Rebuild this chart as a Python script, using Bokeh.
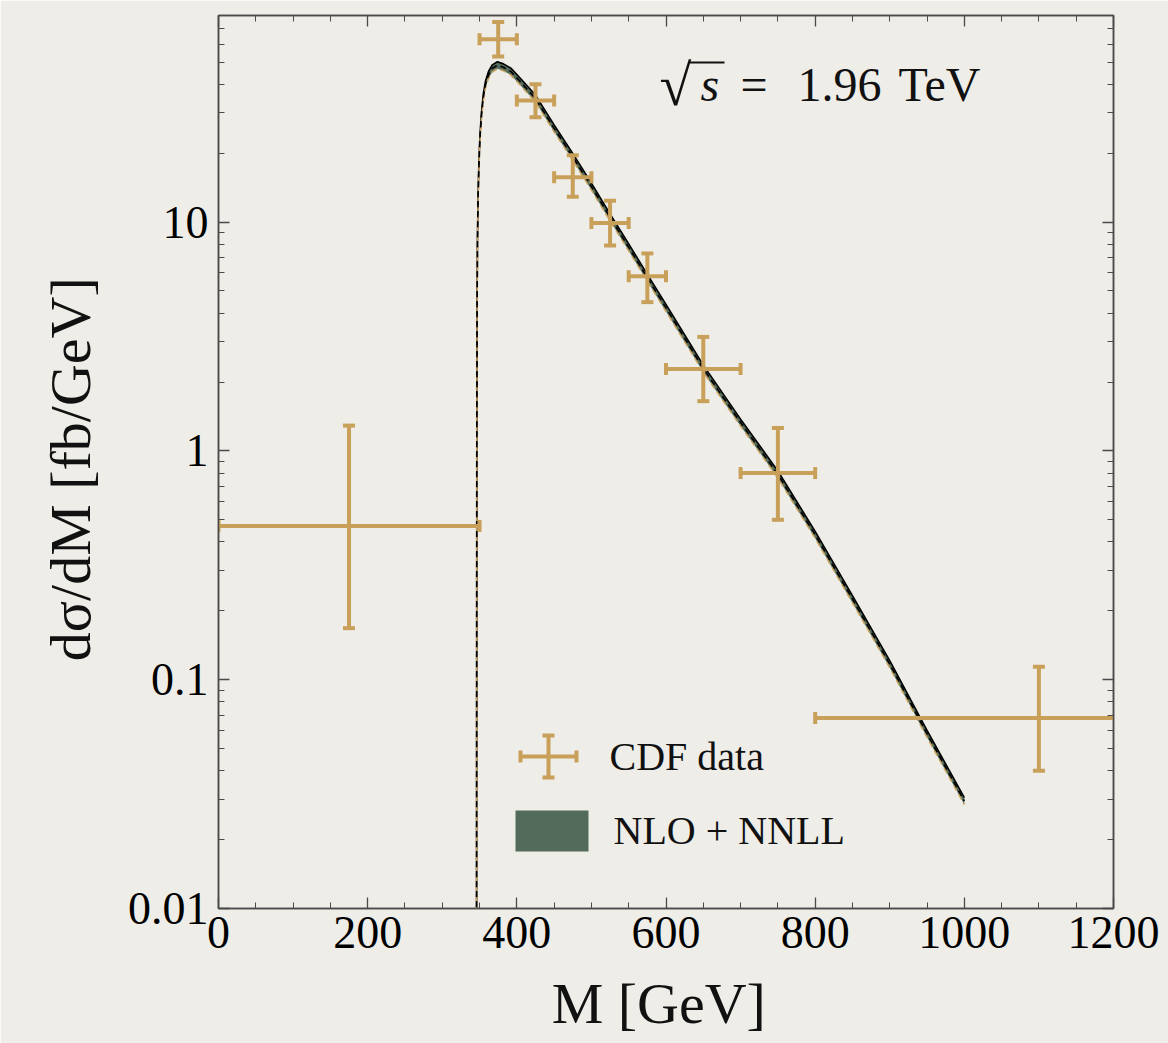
import numpy as np
from bokeh.plotting import figure
from bokeh.models import (Range1d, FixedTicker, SingleIntervalTicker, LinearAxis, LogAxis,
                          Label, BoxAnnotation, CustomJSTickFormatter)
from bokeh.embed import file_html
from bokeh.resources import INLINE

# ---------------- data ----------------
cdf_mass = [175, 375, 425, 475, 525, 575, 650, 750, 1100]
cdf_bin_lo = [0, 350, 400, 450, 500, 550, 600, 700, 800]
cdf_bin_hi = [350, 400, 450, 500, 550, 600, 700, 800, 1400]
cdf_xsec = [0.47, 63.0, 34.0, 15.7, 9.9, 5.8, 2.28, 0.80, 0.068]
cdf_err_up = [1.29, 75.0, 40.0, 19.6, 12.4, 7.3, 3.15, 1.26, 0.114]
cdf_err_dn = [0.168, 53.0, 28.7, 12.9, 7.9, 4.47, 1.65, 0.50, 0.040]

th_mass = [346.0, 346.3, 346.7, 347.2, 348.0, 349.0, 350.5, 352.5, 355.0, 358.0, 362.0,
           367.0, 374.0, 382.0, 392.0, 405.0, 425.0, 450.0, 475.0, 500.0, 525.0, 550.0,
           575.0, 600.0, 650.0, 700.0, 750.0, 800.0, 850.0, 900.0, 950.0, 1000.0]
th_xsec = [0.005, 1.0, 4.0, 8.0, 12.5, 17.0, 23.0, 29.0, 35.0, 40.0, 44.0,
           47.0, 48.5, 47.5, 45.5, 41.0, 34.7, 25.7, 19.3, 14.3, 10.5, 7.76,
           5.71, 4.22, 2.29, 1.33, 0.79, 0.43, 0.225, 0.117, 0.058, 0.0295]
th_rel_unc = 0.035

x_major_step = 200
y_major = [0.01, 0.1, 1, 10]
y_major_labels = ["0.01", "0.1", "1", "10"]
y_minor = [m * d for d in (0.01, 0.1, 1, 10) for m in range(2, 10)]

legend_labels = ["CDF data", "NLO + NNLL"]
x_title = "M  [GeV]"
y_title = "dσ/dM  [fb/GeV]"

# ---------------- style ----------------
BG = "#EEEDE8"
TAN = "#C9A05A"
GREEN = "#536B5B"
FONT = "Liberation Serif"

p = figure(width=1168, height=1043, x_range=Range1d(0, 1200), y_range=Range1d(0.01, 80),
           y_axis_type="log", output_backend="svg", toolbar_location=None,
           min_border_left=218, min_border_right=55, min_border_top=15, min_border_bottom=135,
           background_fill_color=BG, border_fill_color=BG)
p.outline_line_color = "#4a4a4a"
p.outline_line_width = 1.5
p.grid.visible = False

def style_axis(ax, labels=True):
    ax.axis_line_color = "#4a4a4a"
    ax.axis_line_width = 1.5
    ax.major_tick_line_color = "#4a4a4a"
    ax.minor_tick_line_color = "#4a4a4a"
    ax.major_tick_line_width = 1.3
    ax.minor_tick_line_width = 1.0
    ax.major_tick_in = 11
    ax.major_tick_out = 0
    ax.minor_tick_in = 6
    ax.minor_tick_out = 0
    if labels:
        ax.major_label_text_font = FONT
        ax.major_label_text_font_size = "46px"
        ax.major_label_text_color = "black"
        ax.axis_label_text_font = FONT
        ax.axis_label_text_font_size = "58px"
        ax.axis_label_text_font_style = "normal"
        ax.axis_label_text_color = "#111111"
    else:
        ax.formatter = CustomJSTickFormatter(code="return ''")
        ax.major_label_text_font_size = "8px"
        ax.major_label_standoff = 0

xt = SingleIntervalTicker(interval=x_major_step, num_minor_ticks=4)
yt = FixedTicker(ticks=y_major, minor_ticks=y_minor)

p.xaxis.ticker = xt
p.yaxis.ticker = yt
p.yaxis.major_label_overrides = dict(zip(y_major, y_major_labels))
style_axis(p.xaxis[0])
style_axis(p.yaxis[0])
p.xaxis.major_label_standoff = 8
p.yaxis.major_label_standoff = 10
p.xaxis.axis_label = x_title
p.yaxis.axis_label = y_title
p.xaxis.axis_label_standoff = 20
p.yaxis.axis_label_standoff = 22

top_ax = LinearAxis(ticker=xt)
style_axis(top_ax, labels=False)
p.add_layout(top_ax, "above")
right_ax = LogAxis(ticker=yt)
style_axis(right_ax, labels=False)
p.add_layout(right_ax, "right")

# ---------------- theory band ----------------
th_m = np.array(th_mass)
th_v = np.array(th_xsec)
p.varea(x=th_m, y1=th_v * (1 - th_rel_unc), y2=th_v * (1 + th_rel_unc), fill_color=GREEN)
p.line(th_m, th_v * (1 + th_rel_unc), line_color="black", line_width=1.6)
p.line(th_m, th_v * (1 - th_rel_unc), line_color=TAN, line_width=1.5, line_dash="6 4")
p.line(th_m, th_v, line_color="black", line_width=1.6, line_dash="6 4")

# ---------------- CDF data ----------------
p.segment(x0=cdf_mass, y0=cdf_err_dn, x1=cdf_mass, y1=cdf_err_up, line_color=TAN, line_width=4)
p.segment(x0=cdf_bin_lo, y0=cdf_xsec, x1=cdf_bin_hi, y1=cdf_xsec, line_color=TAN, line_width=4)
p.scatter(x=cdf_mass + cdf_mass, y=cdf_err_up + cdf_err_dn, marker="dash", size=12,
          line_color=TAN, line_width=4)
p.scatter(x=cdf_bin_lo + cdf_bin_hi, y=cdf_xsec + cdf_xsec, marker="dash", size=12,
          angle=np.pi / 2, line_color=TAN, line_width=4)

# ---------------- legend (screen units, frame relative) ----------------
def sbox(l, r, b, t, color):
    p.add_layout(BoxAnnotation(left=l, right=r, bottom=b, top=t,
                               left_units="screen", right_units="screen",
                               bottom_units="screen", top_units="screen",
                               fill_color=color, fill_alpha=1.0, line_color=None))

def slabel(x, y, text, size, style="normal", baseline="middle"):
    p.add_layout(Label(x=x, y=y, x_units="screen", y_units="screen", text=text,
                       text_font=FONT, text_font_size=size, text_font_style=style,
                       text_color="#111111", text_baseline=baseline))

cx, cy = 330, 152
sbox(cx - 28, cx + 28, cy - 2, cy + 2, TAN)
sbox(cx - 2, cx + 2, cy - 21, cy + 21, TAN)
sbox(cx - 30, cx - 26, cy - 6, cy + 6, TAN)
sbox(cx + 26, cx + 30, cy - 6, cy + 6, TAN)
sbox(cx - 6, cx + 6, cy - 23, cy - 19, TAN)
sbox(cx - 6, cx + 6, cy + 19, cy + 23, TAN)
sbox(297, 370, 57, 98, GREEN)

slabel(391, 152, legend_labels[0], "40px")
slabel(395, 78, legend_labels[1], "40px")

# sqrt(s) annotation
slabel(441, 823, "√", "58px", baseline="alphabetic")
slabel(482, 824, "s", "48px", style="italic", baseline="alphabetic")
sbox(470, 506, 845, 847, "#111111")
slabel(522, 824, "=", "48px", baseline="alphabetic")
slabel(579, 824, "1.96", "48px", baseline="alphabetic")
slabel(680, 824, "TeV", "48px", baseline="alphabetic")

open("out.html", "w").write(file_html(p, INLINE))
